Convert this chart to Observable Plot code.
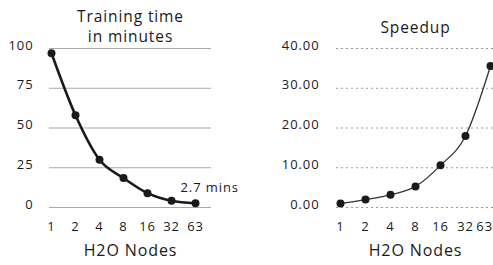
<!DOCTYPE html>
<html><head><meta charset="utf-8">
<script src="https://cdn.jsdelivr.net/npm/d3@7"></script>
<script src="https://cdn.jsdelivr.net/npm/@observablehq/plot@0.6"></script>
<style>
html,body{margin:0;padding:0;background:#fff;overflow:hidden;width:493px;height:265px;}
#wrap{position:relative;width:493px;height:265px;overflow:hidden;}
#left,#right{position:absolute;top:0;height:265px;}
#left{left:0;width:250px;} #right{left:250px;width:260px;}
svg{overflow:visible;max-width:none !important;}
svg text{letter-spacing:0.9px;}
</style></head><body>
<div id="wrap"><div id="left"></div><div id="right"></div></div>
<script>
const nodes = ["1", "2", "4", "8", "16", "32", "63"];
const trainingMinutes = [97, 58, 30, 18.5, 9, 4.2, 2.7];
const speedup = [1, 2, 3.2, 5.3, 10.6, 18, 35.6];
const timeTicks = [0, 25, 50, 75, 100];
const speedTicks = [0, 10, 20, 30, 40];
const leftTitle = "Training time\nin minutes";
const rightTitle = "Speedup";
const xLabel = "H2O Nodes";
const note = "2.7 mins";

const FONT = "'Open Sans', 'Noto Sans', sans-serif";
const ink = "#1a1a1a";
const timeData = nodes.map((n, i) => ({n, v: trainingMinutes[i]}));
const speedData = nodes.map((n, i) => ({n, v: speedup[i]}));

const left = Plot.plot({
  width: 250, height: 265,
  marginLeft: 49, marginRight: 39, marginTop: 48, marginBottom: 58,
  style: {fontFamily: FONT, color: ink, background: "transparent"},
  x: {type: "point", domain: nodes, range: [50, 196], padding: 0, axis: null},
  y: {domain: [0, 100], axis: null},
  marks: [
    Plot.ruleY(timeTicks, {stroke: "#a8a8a8", strokeWidth: 1.2}),
    Plot.axisY(timeTicks, {tickSize: 0, tickPadding: 16, dy: -3, fontSize: 13, label: null}),
    Plot.axisX(nodes, {tickSize: 0, tickPadding: 14, fontSize: 13, label: null}),
    Plot.line(timeData, {x: "n", y: "v", stroke: ink, strokeWidth: 2.6, curve: "monotone-x"}),
    Plot.dot(timeData, {x: "n", y: "v", r: 4, fill: ink}),
    Plot.text([timeData[timeData.length - 1]], {x: "n", y: "v", text: () => note, textAnchor: "start", dx: -15, dy: -15, fontSize: 13, fill: ink}),
    Plot.text([leftTitle], {frameAnchor: "top", text: d => d, lineAnchor: "top", dy: -41, fontSize: 15.5, lineHeight: 1.3, fill: ink}),
    Plot.text([xLabel], {frameAnchor: "bottom", text: d => d, dy: 48, fontSize: 16, fill: ink})
  ]
});
document.getElementById("left").append(left);

const right = Plot.plot({
  width: 260, height: 265,
  marginLeft: 86, marginRight: 0, marginTop: 48, marginBottom: 58,
  style: {fontFamily: FONT, color: ink, background: "transparent"},
  x: {type: "point", domain: nodes, range: [87, 242], padding: 0, axis: null},
  y: {domain: [0, 40], axis: null},
  marks: [
    Plot.ruleY(speedTicks, {stroke: "#9a9a9a", strokeWidth: 1, strokeDasharray: "2,3"}),
    Plot.axisY(speedTicks, {tickSize: 0, tickPadding: 17, dy: -3, fontSize: 13, label: null, tickFormat: d => d.toFixed(2)}),
    Plot.axisX(nodes.slice(0, -1), {tickSize: 0, tickPadding: 14, fontSize: 13, label: null}),
    Plot.axisX(nodes.slice(-1), {tickSize: 0, tickPadding: 14, fontSize: 13, label: null, textAnchor: "end", dx: 2.5}),
    Plot.line(speedData, {x: "n", y: "v", stroke: "#333", strokeWidth: 1.3, curve: "monotone-x"}),
    Plot.dot(speedData, {x: "n", y: "v", r: 4, fill: ink}),
    Plot.text([rightTitle], {frameAnchor: "top-left", text: d => d, textAnchor: "middle", lineAnchor: "top", dx: 79, dy: -27, fontSize: 15.5, fill: ink}),
    Plot.text([xLabel], {frameAnchor: "bottom-left", text: d => d, textAnchor: "middle", dx: 79, dy: 48, fontSize: 16, fill: ink})
  ]
});
document.getElementById("right").append(right);
</script>
</body></html>
